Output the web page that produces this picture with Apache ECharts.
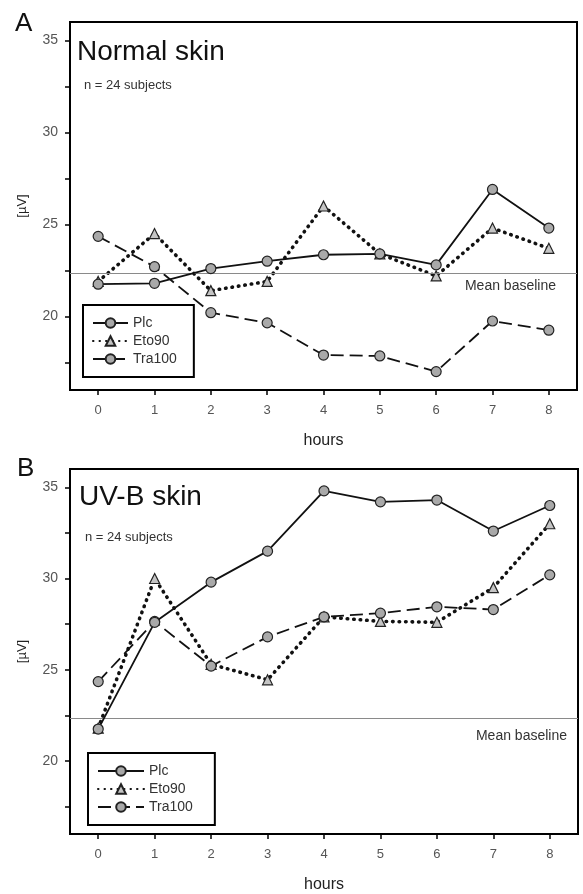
<!DOCTYPE html>
<html>
<head>
<meta charset="utf-8">
<script src="https://cdn.jsdelivr.net/npm/echarts@6/dist/echarts.min.js"></script>
<style>
html,body{margin:0;padding:0;background:#fff;}
#chart{width:583px;height:894px;}
</style>
</head>
<body>
<div id="chart"></div>
<script>
// ---- data ----
const hours = [0, 1, 2, 3, 4, 5, 6, 7, 8];
const seriesNames = ['Plc', 'Eto90', 'Tra100'];
const normalPlc    = [21.75, 21.8, 22.6, 23.0, 23.35, 23.4, 22.8, 26.9, 24.8];
const normalEto90  = [21.9, 24.5, 21.4, 21.9, 26.0, 23.4, 22.2, 24.8, 23.7];
const normalTra100 = [24.35, 22.7, 20.2, 19.65, 17.9, 17.85, 17.0, 19.75, 19.25];
const uvbPlc    = [21.75, 27.6, 29.8, 31.5, 34.8, 34.2, 34.3, 32.6, 34.0];
const uvbEto90  = [21.8, 30.0, 25.3, 24.45, 27.9, 27.65, 27.6, 29.5, 33.0];
const uvbTra100 = [24.35, 27.65, 25.2, 26.8, 27.9, 28.1, 28.45, 28.3, 30.2];
const meanBaseline = 22.35;
const yTickValues = [17.5, 20, 22.5, 25, 27.5, 30, 32.5, 35];
const yLabelValues = [20, 25, 30, 35];
const xTickValues = hours;

const FONT = '"Liberation Sans", Arial, Helvetica, sans-serif';

function pairs(arr) { return hours.map((h, i) => [h, arr[i]]); }

const styles = {
  Plc:    { line: { color: '#111', width: 1.8, type: 'solid' }, symbol: 'circle', size: 10, fill: '#a9a9a9' },
  Eto90:  { line: { color: '#111', width: 3.6, type: [0.5, 6], cap: 'round' }, symbol: 'triangle', size: 10, fill: '#c4c4c4' },
  Tra100: { line: { color: '#111', width: 1.8, type: [13, 6] }, symbol: 'circle', size: 10, fill: '#a9a9a9' }
};

function makeSeries(name, arr, gi, withBaseline) {
  const s = styles[name];
  const o = {
    type: 'line', name: name, xAxisIndex: gi, yAxisIndex: gi,
    data: pairs(arr), symbol: s.symbol, symbolSize: s.size, showAllSymbol: true,
    lineStyle: s.line,
    itemStyle: { color: s.fill, borderColor: '#222', borderWidth: 1.2 },
    emphasis: { disabled: true }, animation: false, z: name === 'Plc' ? 5 : 4
  };
  if (withBaseline) {
    o.markLine = {
      silent: true, symbol: 'none', animation: false,
      lineStyle: { color: '#8a8a8a', width: 1.2, type: 'solid' },
      label: { show: false },
      data: [{ yAxis: meanBaseline }]
    };
  }
  return o;
}

const grids = [
  { left: 70, top: 22, right: 6, height: 368 },
  { left: 70, top: 469, right: 5, height: 368 }
];

function xAxisFor(gi) {
  return {
    gridIndex: gi, type: 'value', min: -0.5, max: 8.5,
    name: 'hours', nameLocation: 'middle', nameGap: 43,
    nameTextStyle: { fontFamily: FONT, fontSize: 16, color: '#222' },
    axisLine: { show: true, onZero: false, lineStyle: { color: '#000', width: 2 } },
    axisTick: { show: true, customValues: xTickValues, length: 5, lineStyle: { color: '#000', width: 1.5 } },
    axisLabel: { customValues: xTickValues, margin: 14, fontFamily: FONT, fontSize: 13, color: '#555' },
    splitLine: { show: false }
  };
}
function yAxisFor(gi) {
  return {
    gridIndex: gi, type: 'value', min: 16, max: 36,
    name: '[µV]', nameLocation: 'middle', nameGap: 41,
    nameTextStyle: { fontFamily: FONT, fontSize: 13, color: '#222' },
    axisLine: { show: true, onZero: false, lineStyle: { color: '#000', width: 2 } },
    axisTick: { show: true, customValues: yTickValues, length: 5, lineStyle: { color: '#000', width: 1.5 } },
    axisLabel: { customValues: yLabelValues, margin: 12, fontFamily: FONT, fontSize: 14, color: '#555' },
    splitLine: { show: false }
  };
}

function legendFor(left, top, itemWidth, padding) {
  return {
    data: seriesNames, orient: 'vertical', left: left, top: top,
    itemWidth: itemWidth, itemHeight: 12, itemGap: 4,
    padding: padding, borderColor: '#000', borderWidth: 2, borderRadius: 0,
    backgroundColor: '#fff', selectedMode: false,
    textStyle: { fontFamily: FONT, fontSize: 14, color: '#333' }
  };
}

function txt(x, y, text, size, opts) {
  return {
    type: 'text', x: x, y: y, z: 100,
    style: Object.assign({ text: text, fontFamily: FONT, fontSize: size, fill: '#111', verticalAlign: 'middle' }, opts || {})
  };
}

const option = {
  backgroundColor: '#fff',
  animation: false,
  grid: grids.map(g => Object.assign({ show: true, borderColor: '#000', borderWidth: 2, backgroundColor: 'transparent' }, g)),
  xAxis: [xAxisFor(0), xAxisFor(1)],
  yAxis: [yAxisFor(0), yAxisFor(1)],
  legend: [
    legendFor(83, 305, 35, [11, 17, 11, 9]),
    legendFor(88, 753, 46, [11, 22, 11, 9])
  ],
  series: [
    makeSeries('Plc', normalPlc, 0, true),
    makeSeries('Eto90', normalEto90, 0, false),
    makeSeries('Tra100', normalTra100, 0, false),
    makeSeries('Plc', uvbPlc, 1, true),
    makeSeries('Eto90', uvbEto90, 1, false),
    makeSeries('Tra100', uvbTra100, 1, false)
  ],
  graphic: [
    txt(15, 24, 'A', 26),
    txt(77, 52, 'Normal skin', 28),
    txt(84, 85, 'n = 24 subjects', 13, { fill: '#333' }),
    txt(556, 286, 'Mean baseline', 14, { fill: '#333', align: 'right' }),
    txt(17, 469, 'B', 26),
    txt(79, 497, 'UV-B skin', 28),
    txt(85, 537, 'n = 24 subjects', 13, { fill: '#333' }),
    txt(567, 736, 'Mean baseline', 14, { fill: '#333', align: 'right' })
  ]
};

const chart = echarts.init(document.getElementById('chart'), null, { renderer: 'canvas' });
chart.setOption(option);
</script>
</body>
</html>
